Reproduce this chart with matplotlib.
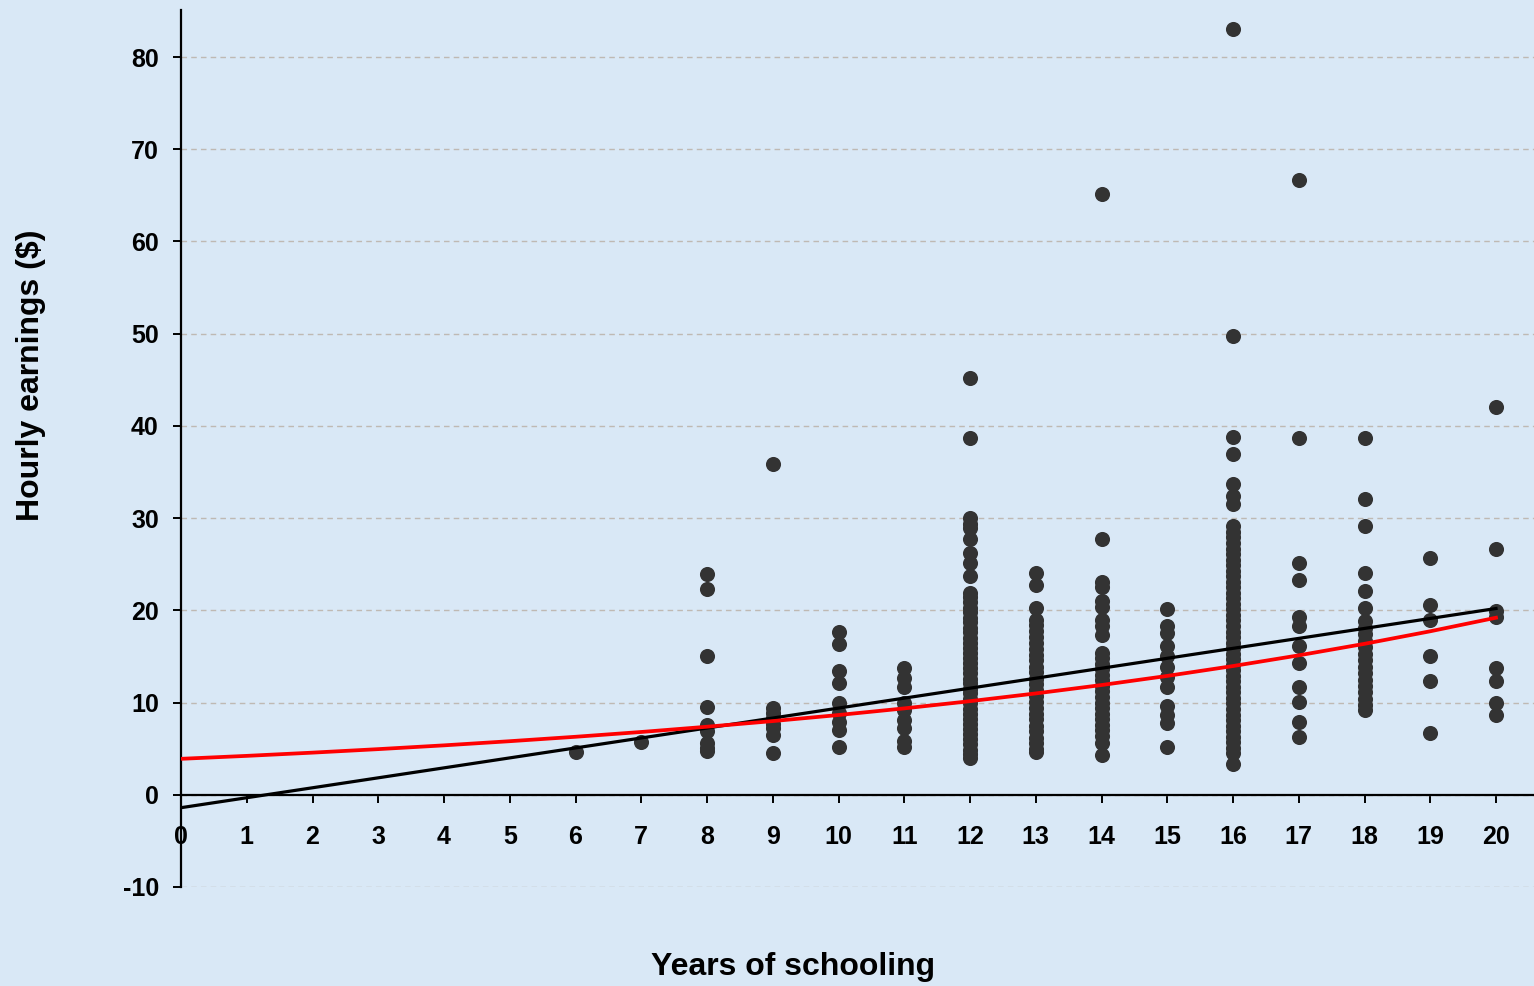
# Hourly earnings vs years of schooling, with linear and semi-log fits.

import matplotlib
matplotlib.use("Agg")
import matplotlib.pyplot as plt

plt.rcParams['font.family'] = ['Liberation Sans', 'DejaVu Sans']
plt.rcParams['axes.unicode_minus'] = False

# earnings per year of schooling
earnings = {
    6: [4.6],
    7: [5.7],
    8: [23.9, 22.3, 15.1, 9.5, 7.6, 6.9, 5.6, 5.1, 4.7],
    9: [35.9, 9.4, 8.9, 8.3, 7.7, 7.2, 6.5, 4.5],
    10: [17.7, 16.3, 13.4, 12.1, 9.9, 8.9, 7.9, 7.0, 5.2],
    11: [13.7, 12.7, 11.7, 9.9, 9.2, 8.1, 7.2, 5.8, 5.2],
    12: [45.2, 38.7, 30.0, 29.4, 28.9, 27.7, 26.2, 25.1, 23.7, 21.9, 21.4,
         20.9, 20.3, 19.8, 19.2, 18.7, 18.1, 17.6, 17.0, 16.5, 15.9, 15.4,
         14.8, 14.3, 13.7, 13.2, 12.6, 12.1, 11.5, 11.0, 10.4, 9.9, 9.3,
         8.8, 8.2, 7.7, 7.1, 6.6, 6.0, 5.5, 4.9, 4.4, 4.0],
    13: [24.0, 22.8, 20.2, 19.0, 18.4, 17.8, 17.1, 16.5, 15.8, 15.2, 14.6,
         13.9, 13.3, 12.6, 12.0, 11.4, 10.7, 10.1, 9.4, 8.8, 8.2, 7.5, 6.9,
         6.2, 5.6, 5.0, 4.6],
    14: [65.2, 27.7, 23.1, 22.5, 21.0, 20.4, 19.0, 18.3, 17.3, 15.4, 14.8,
         14.2, 13.6, 13.0, 12.4, 11.8, 11.2, 10.6, 10.0, 9.4, 8.8, 8.2, 7.6,
         7.0, 6.4, 5.6, 4.3],
    15: [20.1, 18.3, 17.5, 16.1, 15.0, 13.9, 12.8, 11.7, 9.6, 8.7, 7.8, 5.2],
    16: [83.0, 49.8, 38.8, 37.0, 33.7, 32.4, 31.5, 29.1, 28.5, 27.9, 27.3,
         26.7, 26.1, 25.5, 24.9, 24.3, 23.7, 23.1, 22.5, 21.9, 21.3, 20.7,
         20.1, 19.5, 18.9, 18.3, 17.7, 17.1, 16.5, 15.9, 15.3, 14.7, 14.1,
         13.5, 12.9, 12.3, 11.7, 11.1, 10.5, 9.9, 9.3, 8.7, 8.1, 7.5, 6.9,
         6.3, 5.7, 5.1, 4.5, 3.3],
    17: [66.7, 38.7, 25.1, 23.3, 19.3, 18.3, 16.1, 14.3, 11.7, 10.1, 7.9, 6.3],
    18: [38.7, 32.1, 29.1, 24.1, 22.1, 20.2, 18.8, 18.1, 17.4, 16.7, 16.0,
         15.3, 14.6, 13.9, 13.2, 12.5, 11.8, 11.1, 10.4, 9.7, 9.2],
    19: [25.7, 20.6, 19.0, 15.0, 12.3, 6.7],
    20: [42.1, 26.7, 19.9, 19.3, 13.7, 12.3, 9.9, 8.7],
}

# fitted lines
lin_x = [0, 20]
lin_y = [-1.4, 20.2]
semilog_x = list(range(21))
semilog_y = [3.90, 4.22, 4.57, 4.95, 5.36, 5.81, 6.29, 6.81, 7.38, 7.99, 8.65,
             9.37, 10.15, 10.99, 11.90, 12.89, 13.96, 15.12, 16.37, 17.73, 19.20]

x_ticks = list(range(21))
y_ticks = list(range(-10, 81, 10))

bg = '#d9e8f6'
fig = plt.figure(figsize=(15.34, 9.86), dpi=100, facecolor=bg)
ax = fig.add_axes([181/1534, 1 - 887/986, 1 - 181/1534, (887 - 10)/986])
ax.set_facecolor(bg)

xs, ys = [], []
for s, vals in earnings.items():
    xs += [s] * len(vals)
    ys += vals
ax.scatter(xs, ys, s=118, color='#333333', zorder=3, linewidths=0)

ax.plot(lin_x, lin_y, color='black', lw=2.3, zorder=4)
ax.plot(semilog_x, semilog_y, color='#ff0000', lw=2.7, zorder=4)

ax.set_xlim(0, (1534 - 181) / 65.75)
ax.set_ylim(-10, 85.1)

ax.spines['right'].set_visible(False)
ax.spines['top'].set_visible(False)
ax.spines['bottom'].set_position(('data', 0))
ax.spines['left'].set_linewidth(1.6)
ax.spines['bottom'].set_linewidth(1.6)

ax.set_xticks(x_ticks)
ax.set_yticks(y_ticks)
ax.tick_params(axis='x', direction='out', length=6, width=1.4, pad=16,
               labelsize=18)
ax.tick_params(axis='y', direction='out', length=6, width=1.4, pad=10,
               labelsize=18)
for lab in ax.get_xticklabels() + ax.get_yticklabels():
    lab.set_fontweight('bold')

ax.yaxis.grid(True, linestyle=(0, (4, 3)), color='#bfb9b3', lw=1.0)
ax.set_axisbelow(True)

fig.text(793/1534, 1 - 967/986, 'Years of schooling', ha='center',
         va='center', fontsize=23, fontweight='bold')
fig.text(31/1534, 1 - 375/986, 'Hourly earnings ($)', ha='center',
         va='center', rotation=90, fontsize=23, fontweight='bold')

fig.savefig('out.png', dpi=100, facecolor=bg)
